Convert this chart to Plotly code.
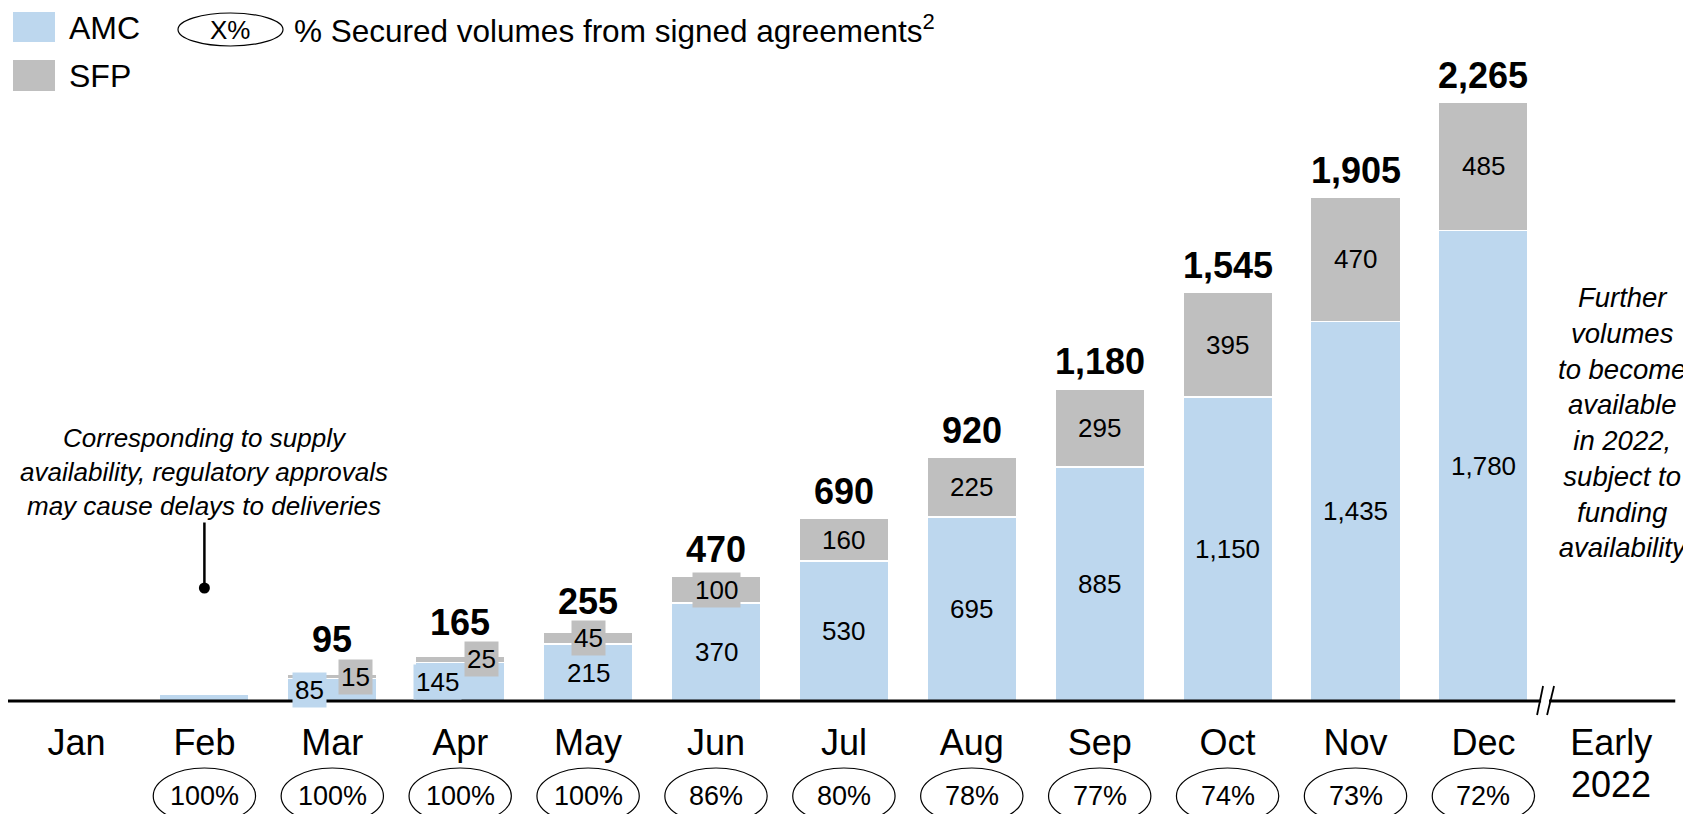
import plotly.graph_objects as go

# --- data ---
months = ['Jan', 'Feb', 'Mar', 'Apr', 'May', 'Jun', 'Jul', 'Aug', 'Sep', 'Oct', 'Nov', 'Dec', 'Early']
amc = [None, 25, 85, 145, 215, 370, 530, 695, 885, 1150, 1435, 1780, None]
sfp = [None, 0, 15, 25, 45, 100, 160, 225, 295, 395, 470, 485, None]
totals = [None, None, 95, 165, 255, 470, 690, 920, 1180, 1545, 1905, 2265, None]
secured_pct = [None, 100, 100, 100, 100, 86, 80, 78, 77, 74, 73, 72, None]
hidden_labels = {'Feb'}

# --- styling ---
BLUE = '#BDD7EE'
GRAY = '#BFBFBF'
FONT = 'Arial, Liberation Sans, sans-serif'
W, H = 1691, 814
OFF = 8                # page body margin
PLOT_H = 701 - OFF     # baseline row inside the figure
BAR_W = 0.7
BREAK_X = 11.49

# small segments get their label nudged sideways (x offset in category units)
amc_dx = {'Mar': -0.175, 'Apr': -0.18}
sfp_dx = {'Mar': 0.18, 'Apr': 0.17}
total_shift = {'Mar': 35, 'Apr': 34, 'May': 31}


def py(px):
    # screen pixel row -> paper y
    return (PLOT_H - (px - OFF)) / PLOT_H


def pxx(px):
    return (px - OFF) / W


def txt(size, **kw):
    return dict(size=size, color='black', family=FONT, **kw)


x_pos = list(range(len(months)))

fig = go.Figure()
fig.add_trace(go.Bar(x=x_pos, y=amc, width=BAR_W, name='AMC',
                     marker=dict(color=BLUE, line=dict(color='white', width=1.5))))
fig.add_trace(go.Bar(x=x_pos, y=sfp, width=BAR_W, name='SFP',
                     marker=dict(color=GRAY, line=dict(color='white', width=1.5))))

ann = []
shapes = []

for i, m in enumerate(months):
    if amc[i] is None:
        continue
    if m not in hidden_labels:
        ann.append(dict(x=i + amc_dx.get(m, 0), y=amc[i] / 2, xref='x', yref='y',
                        xanchor='center', yanchor='middle',
                        text=f'{amc[i]:,}', showarrow=False, bgcolor=BLUE, borderpad=2,
                        font=txt(26)))
        if sfp[i]:
            ann.append(dict(x=i + sfp_dx.get(m, 0), y=amc[i] + sfp[i] / 2, xref='x', yref='y',
                            xanchor='center', yanchor='middle',
                            text=f'{sfp[i]:,}', showarrow=False, bgcolor=GRAY, borderpad=2,
                            font=txt(26)))
    if totals[i] is not None:
        ann.append(dict(x=i, y=amc[i] + sfp[i], xref='x', yref='y',
                        xanchor='center', yanchor='middle',
                        yshift=total_shift.get(m, 27), text=f'<b>{totals[i]:,}</b>',
                        showarrow=False, font=txt(36)))

# secured % ovals under the month labels
for i, p in enumerate(secured_pct):
    if p is None:
        continue
    shapes.append(dict(type='circle', xref='x', yref='paper', x0=i - 0.4, x1=i + 0.4,
                       y0=py(824), y1=py(768), line=dict(color='black', width=1.2)))
    ann.append(dict(x=i, y=py(796), xref='x', yref='paper', xanchor='center', yanchor='middle',
                    text=f'{p}%', showarrow=False, font=txt(27)))

ann.append(dict(x=12, y=py(785), xref='x', yref='paper', xanchor='center', yanchor='middle',
                text='2022', showarrow=False, font=txt(36)))

# baseline with axis break (paper y so nothing is clipped at the plot edge)
shapes.append(dict(type='line', xref='x', yref='paper', x0=-0.543, x1=12.5, y0=0, y1=0,
                   line=dict(color='black', width=2.8)))
shapes.append(dict(type='rect', xref='x', yref='paper', xsizemode='pixel', ysizemode='pixel',
                   xanchor=BREAK_X, yanchor=0, x0=-5, x1=3, y0=-3, y1=3,
                   fillcolor='white', line=dict(width=0)))
for x0, x1 in [(-9, -3), (1, 8)]:
    shapes.append(dict(type='line', xref='x', yref='paper', xsizemode='pixel', ysizemode='pixel',
                       xanchor=BREAK_X, yanchor=0, x0=x0, x1=x1, y0=-14, y1=15,
                       line=dict(color='black', width=1.8)))

# legend
shapes.append(dict(type='rect', xref='paper', yref='paper', x0=pxx(13), x1=pxx(55),
                   y0=py(42), y1=py(12), fillcolor=BLUE, line=dict(width=0)))
shapes.append(dict(type='rect', xref='paper', yref='paper', x0=pxx(13), x1=pxx(55),
                   y0=py(91), y1=py(60), fillcolor=GRAY, line=dict(width=0)))
shapes.append(dict(type='circle', xref='paper', yref='paper', x0=pxx(178), x1=pxx(283),
                   y0=py(46), y1=py(13), line=dict(color='black', width=1.2)))
ann += [
    dict(x=pxx(67), y=py(28), xref='paper', yref='paper', xanchor='left', yanchor='middle',
         text='AMC', showarrow=False, font=txt(32)),
    dict(x=pxx(67), y=py(76), xref='paper', yref='paper', xanchor='left', yanchor='middle',
         text='SFP', showarrow=False, font=txt(32)),
    dict(x=pxx(230), y=py(30), xref='paper', yref='paper', xanchor='center', yanchor='middle',
         text='X%', showarrow=False, font=txt(26)),
    dict(x=pxx(292), y=py(29), xref='paper', yref='paper', xanchor='left', yanchor='middle',
         text='% Secured volumes from signed agreements<sup>2</sup>',
         showarrow=False, font=txt(31.5)),
]

# side notes
ann.append(dict(x=1, y=py(588), xref='x', yref='paper', ax=0, ay=-116,
                text='<i>Corresponding to supply<br>availability, regulatory approvals<br>'
                     'may cause delays to deliveries</i>',
                showarrow=True, arrowhead=6, arrowsize=1.1, arrowwidth=2.5, arrowcolor='black',
                font=txt(26)))
ann.append(dict(x=pxx(1623), y=py(422), xref='paper', yref='paper',
                xanchor='center', yanchor='middle', showarrow=False,
                text='<i>Further<br>volumes<br>to become<br>available<br>in 2022,<br>'
                     'subject to<br>funding<br>availability</i>',
                font=txt(27.5)))

fig.update_layout(
    width=W, height=H,
    barmode='stack',
    showlegend=False,
    plot_bgcolor='white', paper_bgcolor='white',
    margin=dict(l=0, r=0, t=0, b=H - PLOT_H),
    font=dict(family=FONT, color='black'),
    xaxis=dict(range=[-(76.5 - OFF) / 127.9, (W - 76.5 + OFF) / 127.9],
               tickvals=x_pos, ticktext=months, ticks='',
               showline=False, showgrid=False, zeroline=False, ticklabelstandoff=17,
               tickfont=txt(36)),
    yaxis=dict(range=[0, PLOT_H / 0.26446], visible=False),
    annotations=ann,
    shapes=shapes,
)

fig.write_html('out.html')
